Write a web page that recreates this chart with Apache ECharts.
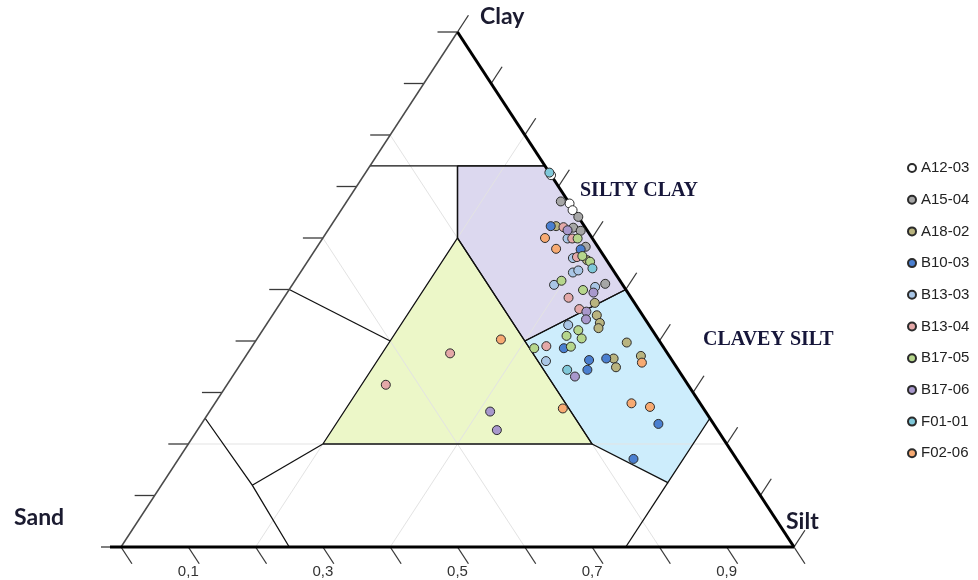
<!DOCTYPE html>
<html>
<head>
<meta charset="utf-8">
<title>Soil texture ternary diagram</title>
<script src="https://cdn.jsdelivr.net/npm/echarts@6/dist/echarts.min.js"></script>
<style>
  html, body { margin: 0; padding: 0; background: #ffffff; }
  #chart { width: 978px; height: 580px; }
</style>
</head>
<body>
<div id="chart"></div>
<script>
// Sample compositions, one row per measurement: [sand, silt, clay] in percent
const A12_03 = [[0, 27.8, 72.2], [0, 33.3, 66.7], [0.2, 34.4, 65.4]];
const A15_04 = [[1.1, 31.8, 67.1], [0, 35.9, 64.1], [1.8, 36.2, 62.0], [1.0, 37.6, 61.4], [1.8, 39.9, 58.3], [2.5, 46.4, 51.1]];
const A18_02 = [[4.2, 33.5, 62.3], [2.9, 41.4, 55.7], [5.9, 46.7, 47.4], [6.8, 48.2, 45.0], [7.1, 49.4, 43.5],
                [7.8, 49.7, 42.5], [5.0, 55.3, 39.7], [4.2, 58.7, 37.1], [8.5, 54.9, 36.6], [9.0, 56.1, 34.9]];
const B10_03 = [[5.0, 32.7, 62.3], [2.8, 39.4, 57.8], [14.9, 46.5, 38.6], [9.6, 53.8, 36.6], [12.3, 51.4, 36.3],
                [13.5, 52.1, 34.4], [8.2, 67.9, 23.9], [15.3, 67.6, 17.1]];
const B13_03 = [[3.7, 36.4, 59.9], [4.8, 39.1, 56.1], [6.2, 40.5, 53.3], [5.2, 41.1, 53.7], [10.2, 38.9, 50.9],
                [4.3, 45.2, 50.5], [12.0, 44.9, 43.1], [18.8, 45.1, 36.1]];
const B13_04 = [[3.2, 34.7, 62.1], [3.0, 37.1, 59.9], [4.1, 39.6, 56.3], [9.3, 42.3, 48.4], [8.8, 45.0, 46.2],
                [17.3, 43.7, 39.0], [32.3, 30.1, 37.6], [44.9, 23.6, 31.5]];
const B17_05 = [[2.2, 37.9, 59.9], [3.2, 40.3, 56.5], [2.6, 42.0, 55.4], [8.7, 39.6, 51.7], [6.4, 43.7, 49.9],
                [11.0, 46.9, 42.1], [13.3, 45.7, 41.0], [11.3, 48.2, 40.5], [19.3, 42.1, 38.6], [13.7, 47.4, 38.9]];
const B17_06 = [[2.9, 35.6, 61.5], [5.1, 45.5, 49.4], [8.0, 46.3, 45.7], [8.8, 47.0, 44.2], [16.0, 50.9, 33.1],
                [32.0, 41.7, 26.3], [32.8, 44.5, 22.7]];
const F01_01 = [[0, 27.3, 72.7], [2.9, 43.0, 54.1], [16.5, 49.1, 34.4]];
const F02_06 = [[7.0, 33.0, 60.0], [6.4, 35.7, 57.9], [4.7, 59.5, 35.8], [10.2, 61.9, 27.9], [7.8, 65.0, 27.2],
                [20.9, 52.2, 26.9], [23.4, 36.3, 40.3]];

const sampleNames = ['A12-03', 'A15-04', 'A18-02', 'B10-03', 'B13-03', 'B13-04', 'B17-05', 'B17-06', 'F01-01', 'F02-06'];
const sampleSets = [A12_03, A15_04, A18_02, B10_03, B13_03, B13_04, B17_05, B17_06, F01_01, F02_06];
const sampleColors = ['#ffffff', '#a6a6a6', '#b9b47f', '#4a7fd0', '#a9c6e6', '#e4a8a8', '#b6d68c', '#a898cc', '#7fc8d9', '#f7aa72'];

// Texture classes, vertices as [sand, silt, clay] fractions
const siltyClayZone = [[0.13, 0.13, 0.74], [0, 0.26, 0.74], [0, 0.5, 0.5], [0.2, 0.4, 0.4], [0.2, 0.2, 0.6]];
const clayeySiltZone = [[0.2, 0.4, 0.4], [0, 0.5, 0.5], [0, 0.75, 0.25], [0.125, 0.75, 0.125], [0.2, 0.6, 0.2]];
const loamZone = [[0.6, 0.2, 0.2], [0.2, 0.6, 0.2], [0.2, 0.2, 0.6]];
const zoneColors = ['#dcd8ef', '#cdedfc', '#ecf7c8'];

// Remaining class boundaries (unfilled classes)
const classBoundaries = [
  [[0.26, 0, 0.74], [0, 0.26, 0.74]],
  [[0.13, 0.13, 0.74], [0.2, 0.2, 0.6]],
  [[0.5, 0, 0.5], [0.4, 0.2, 0.4]],
  [[0.75, 0, 0.25], [0.745, 0.135, 0.12], [0.75, 0.25, 0]],
  [[0.745, 0.135, 0.12], [0.6, 0.2, 0.2]],
  [[0.25, 0.75, 0], [0.125, 0.75, 0.125]]
];

// Light reference grid
const gridLines = [
  [[0.2, 0, 0.8], [0.2, 0.8, 0]],
  [[0.4, 0, 0.6], [0.4, 0.6, 0]],
  [[0.8, 0.2, 0], [0, 0.2, 0.8]],
  [[0.6, 0.4, 0], [0, 0.4, 0.6]],
  [[0.8, 0, 0.2], [0, 0.8, 0.2]]
];

const tickValues = [0, 0.1, 0.2, 0.3, 0.4, 0.5, 0.6, 0.7, 0.8, 0.9, 1];
const bottomLabelValues = [0.1, 0.3, 0.5, 0.7, 0.9];
const bottomLabels = ['0,1', '0,3', '0,5', '0,7', '0,9'];

// Ternary composition -> position in the unit triangle (x across the base, y = clay)
function toXY(p) {
  const tot = p[0] + p[1] + p[2];
  const silt = p[1] / tot, clay = p[2] / tot;
  return [silt + clay / 2, clay];
}

const chart = echarts.init(document.getElementById('chart'), null, { renderer: 'canvas' });

const zones = [siltyClayZone, clayeySiltZone, loamZone];

function unit(v) {
  const l = Math.hypot(v[0], v[1]);
  return [v[0] / l, v[1] / l];
}

const series = [];

// Filled texture classes
series.push({
  type: 'custom', coordinateSystem: 'cartesian2d', silent: true, z: 1,
  data: zones.map(function (z, i) { return [0.5, 0.5, i]; }),
  renderItem: function (params, api) {
    const zone = zones[params.dataIndex];
    return {
      type: 'polygon',
      shape: { points: zone.map(function (p) { return api.coord(toXY(p)); }) },
      style: { fill: zoneColors[params.dataIndex], stroke: null }
    };
  }
});

// Reference grid
series.push({
  type: 'custom', coordinateSystem: 'cartesian2d', silent: true, z: 2,
  data: gridLines.map(function (g, i) { return [0.5, 0.5, i]; }),
  renderItem: function (params, api) {
    const g = gridLines[params.dataIndex];
    return {
      type: 'polyline',
      shape: { points: g.map(function (p) { return api.coord(toXY(p)); }) },
      style: { stroke: '#e3e3e3', lineWidth: 1, fill: null }
    };
  }
});

// Class outlines
const outlines = zones.map(function (z) { return z.concat([z[0]]); }).concat(classBoundaries);
series.push({
  type: 'custom', coordinateSystem: 'cartesian2d', silent: true, z: 3,
  data: outlines.map(function (g, i) { return [0.5, 0.5, i]; }),
  renderItem: function (params, api) {
    const g = outlines[params.dataIndex];
    return {
      type: 'polyline',
      shape: { points: g.map(function (p) { return api.coord(toXY(p)); }) },
      style: { stroke: '#111111', lineWidth: 1.3, fill: null, lineJoin: 'miter' }
    };
  }
});

// Triangle frame, ticks and bottom tick labels
series.push({
  type: 'custom', coordinateSystem: 'cartesian2d', silent: true, z: 4,
  data: [[0.5, 0.5]],
  renderItem: function (params, api) {
    const sandV = api.coord([0, 0]), siltV = api.coord([1, 0]), clayV = api.coord([0.5, 1]);
    const downRight = unit([siltV[0] - clayV[0], siltV[1] - clayV[1]]);
    const upRight = unit([clayV[0] - sandV[0], clayV[1] - sandV[1]]);
    const len = 20;
    const children = [];
    tickValues.forEach(function (t) {
      const l = api.coord([t / 2, t]);
      children.push({ type: 'line', shape: { x1: l[0], y1: l[1], x2: l[0] - len, y2: l[1] },
        style: { stroke: '#3a3a3a', lineWidth: 1.3 } });
      const b = api.coord([t, 0]);
      children.push({ type: 'line', shape: { x1: b[0], y1: b[1], x2: b[0] + downRight[0] * len, y2: b[1] + downRight[1] * len },
        style: { stroke: '#3a3a3a', lineWidth: 1.3 } });
      const r = api.coord([1 - t / 2, t]);
      children.push({ type: 'line', shape: { x1: r[0], y1: r[1], x2: r[0] + upRight[0] * len, y2: r[1] + upRight[1] * len },
        style: { stroke: '#3a3a3a', lineWidth: 1.3 } });
    });
    children.push({ type: 'line', shape: { x1: sandV[0], y1: sandV[1], x2: clayV[0], y2: clayV[1] },
      style: { stroke: '#4a4a4a', lineWidth: 1.5 } });
    children.push({ type: 'line', shape: { x1: clayV[0], y1: clayV[1], x2: siltV[0], y2: siltV[1] },
      style: { stroke: '#000000', lineWidth: 3 } });
    children.push({ type: 'line', shape: { x1: sandV[0] - 11, y1: sandV[1], x2: siltV[0], y2: siltV[1] },
      style: { stroke: '#000000', lineWidth: 3 } });
    bottomLabelValues.forEach(function (t, i) {
      const b = api.coord([t, 0]);
      children.push({ type: 'text', x: b[0], y: b[1] + 25,
        style: { text: bottomLabels[i], fill: '#333333', font: '15px "Liberation Sans", Arial, sans-serif',
                 align: 'center', verticalAlign: 'middle' } });
    });
    return { type: 'group', children: children };
  }
});

// Samples
sampleSets.forEach(function (set, i) {
  series.push({
    name: sampleNames[i],
    type: 'scatter',
    z: 5,
    symbol: 'circle',
    symbolSize: 9,
    data: set.map(toXY),
    itemStyle: { color: sampleColors[i], borderColor: '#2b2b2b', borderWidth: 1, opacity: 1 },
    emphasis: { disabled: true }
  });
});

const titleFont = 'bold 23px Lato, "Open Sans", sans-serif';
const zoneFont = 'bold 20px "Liberation Serif", "Times New Roman", serif';

chart.setOption({
  animation: false,
  backgroundColor: '#ffffff',
  grid: { left: 121, top: 32, width: 673, height: 515, containLabel: false },
  xAxis: { type: 'value', min: 0, max: 1, show: false },
  yAxis: { type: 'value', min: 0, max: 1, show: false },
  legend: {
    orient: 'vertical',
    left: 902,
    top: 155,
    itemWidth: 8,
    itemHeight: 8,
    itemGap: 15.7,
    icon: 'circle',
    selectedMode: false,
    textStyle: { fontSize: 15, lineHeight: 16, color: '#222222', fontFamily: '"Liberation Sans", Arial, sans-serif' },
    data: sampleNames
  },
  graphic: [
    { type: 'text', left: 480, top: 5, style: { text: 'Clay', font: titleFont, fill: '#1b1b30' } },
    { type: 'text', left: 14, top: 506, style: { text: 'Sand', font: titleFont, fill: '#1b1b30' } },
    { type: 'text', left: 786, top: 510, style: { text: 'Silt', font: titleFont, fill: '#1b1b30' } },
    { type: 'text', left: 580, top: 181, style: { text: 'SILTY CLAY', font: zoneFont, fill: '#16163a' } },
    { type: 'text', left: 703, top: 330, style: { text: 'CLAVEY SILT', font: zoneFont, fill: '#16163a' } }
  ],
  series: series
});
</script>
</body>
</html>
